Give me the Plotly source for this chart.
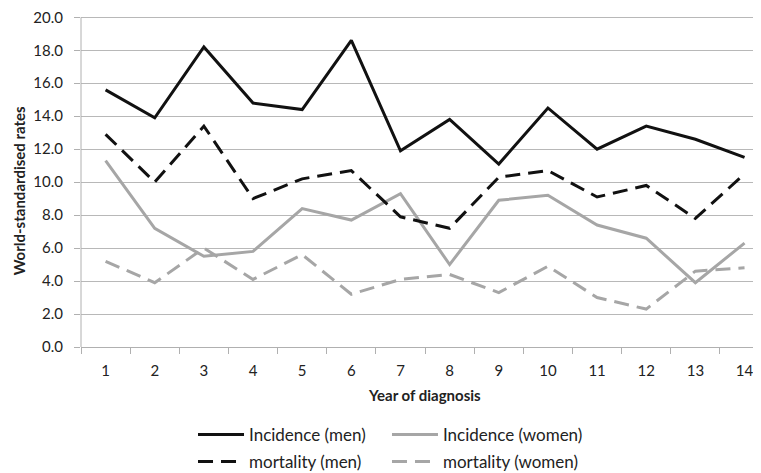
import plotly.graph_objects as go

years = [str(i) for i in range(1, 15)]
inc_men = [15.6, 13.9, 18.2, 14.8, 14.4, 18.6, 11.9, 13.8, 11.1, 14.5, 12.0, 13.4, 12.6, 11.5]
inc_women = [11.3, 7.2, 5.5, 5.8, 8.4, 7.7, 9.3, 5.0, 8.9, 9.2, 7.4, 6.6, 3.9, 6.3]
mort_men = [12.9, 10.0, 13.4, 9.0, 10.2, 10.7, 7.9, 7.2, 10.3, 10.7, 9.1, 9.8, 7.8, 10.5]
mort_women = [5.2, 3.9, 6.0, 4.1, 5.6, 3.2, 4.1, 4.4, 3.3, 4.9, 3.0, 2.3, 4.6, 4.8]
y_ticks = [0, 2, 4, 6, 8, 10, 12, 14, 16, 18, 20]

BLACK = "#111111"
GRAY = "#a6a6a6"
FONT = "Lato"

fig = go.Figure()
fig.add_trace(go.Scatter(x=years, y=inc_men, mode="lines", name="Incidence (men)",
                         line=dict(color=BLACK, width=3), legend="legend"))
fig.add_trace(go.Scatter(x=years, y=inc_women, mode="lines", name="Incidence (women)",
                         line=dict(color=GRAY, width=3), legend="legend2"))
fig.add_trace(go.Scatter(x=years, y=mort_men, mode="lines", name="mortality (men)",
                         line=dict(color=BLACK, width=3, dash="15px,8px"), legend="legend3"))
fig.add_trace(go.Scatter(x=years, y=mort_women, mode="lines", name="mortality (women)",
                         line=dict(color=GRAY, width=3, dash="15px,8px"), legend="legend4"))

legend_common = dict(orientation="h", xanchor="left", yanchor="middle",
                     xref="container", yref="container",
                     font=dict(family=FONT, size=17, color="#222"),
                     itemwidth=46, bgcolor="rgba(0,0,0,0)")

col1, col2 = 0.2457, 0.5033
row1, row2 = 0.0817, 0.0237

# page body has an 8px margin, so the figure is shifted by (8, 8) in the window
fig.update_layout(
    template="none",
    width=753, height=465,
    margin=dict(l=73, r=0, t=5.7, b=126, autoexpand=False),
    paper_bgcolor="white", plot_bgcolor="white",
    font=dict(family=FONT, size=14, color="#222"),
    showlegend=True,
    legend=dict(x=col1, y=row1, **legend_common),
    legend2=dict(x=col2, y=row1, **legend_common),
    legend3=dict(x=col1, y=row2, **legend_common),
    legend4=dict(x=col2, y=row2, **legend_common),
    annotations=[
        dict(text="<b>Year of diagnosis</b>", xref="paper", yref="paper",
             x=0.505, y=-0.144, showarrow=False, xanchor="center", yanchor="middle",
             font=dict(family=FONT, size=15, color="#222")),
        dict(text="<b>World-standardised rates</b>", xref="paper", yref="paper",
             x=-0.091, y=0.468, showarrow=False, xanchor="center", yanchor="middle",
             textangle=-90, font=dict(family=FONT, size=15, color="#222")),
    ],
)

fig.update_xaxes(type="category", range=[-0.5, 13.335], tickson="boundaries",
                 ticks="outside", ticklen=6, tickcolor="#b0b0b0", tickwidth=1,
                 showline=True, linecolor="#b0b0b0", linewidth=1, automargin=False,
                 showgrid=False, zeroline=False, ticklabelstandoff=10,
                 ticklabeloverflow="allow",
                 tickfont=dict(family=FONT, size=15, color="#222"))
fig.update_yaxes(range=[0, 20.2], tickvals=y_ticks, ticktext=[f"{v:.1f}" for v in y_ticks],
                 ticks="outside", ticklen=6, tickcolor="#b0b0b0", tickwidth=1,
                 showline=False, automargin=False,
                 showgrid=True, gridcolor="#b8b8b8", gridwidth=1.2, zeroline=False,
                 ticklabelstandoff=8, ticklabeloverflow="allow",
                 tickfont=dict(family=FONT, size=15, color="#222"))
# left axis line only spanning the 0-20 range, as in the reference
fig.update_xaxes(showspikes=False)
fig.add_shape(type="line", xref="paper", yref="y", x0=0, x1=0, y0=0, y1=20,
              line=dict(color="#b0b0b0", width=1))

fig.write_html("out.html")
